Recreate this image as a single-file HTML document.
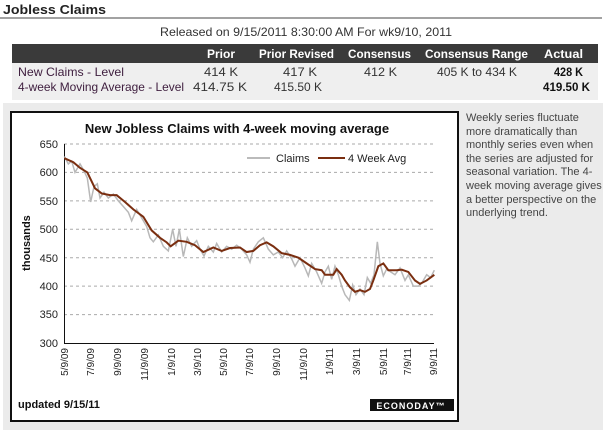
<!DOCTYPE html>
<html><head><meta charset="utf-8"><style>
body{margin:0;width:610px;height:430px;background:#fff;font-family:"Liberation Sans",Arial,sans-serif;position:relative;overflow:hidden}
.a{position:absolute}
</style></head><body>
<div class="a" style="left:3px;top:103px;width:600px;height:327px;background:#ebebeb"></div>
<div class="a" style="left:10px;top:111px;width:445px;height:307px;background:#fff;border:2px solid #111"></div>
<div class="a" style="left:466px;top:112px;width:140px;font-size:11px;line-height:13.6px;color:#444">Weekly series fluctuate more dramatically than monthly series even when the series are adjusted for seasonal variation. The 4-week moving average gives a better perspective on the underlying trend.</div>
<svg class="a" style="left:0;top:0" width="610" height="430">
<g font-family="Liberation Sans,Arial,sans-serif">
<text x="3" y="14" font-size="13" font-weight="bold" fill="#222" textLength="103" lengthAdjust="spacingAndGlyphs">Jobless Claims</text>
<rect x="0" y="17.5" width="602" height="1" fill="#444"/>
<text x="160" y="36" font-size="12" fill="#333" textLength="292" lengthAdjust="spacingAndGlyphs">Released on 9/15/2011 8:30:00 AM For wk9/10, 2011</text>
<rect x="12" y="44" width="586" height="19" fill="#3a3a3a"/>
<rect x="12" y="63" width="586" height="37" fill="#efefef"/>
<g font-size="12" font-weight="bold" fill="#fff">
<text x="207" y="58" textLength="28" lengthAdjust="spacingAndGlyphs">Prior</text>
<text x="259" y="58" textLength="75" lengthAdjust="spacingAndGlyphs">Prior Revised</text>
<text x="348" y="58" textLength="63" lengthAdjust="spacingAndGlyphs">Consensus</text>
<text x="425" y="58" textLength="103" lengthAdjust="spacingAndGlyphs">Consensus Range</text>
<text x="544" y="58" textLength="39" lengthAdjust="spacingAndGlyphs">Actual</text></g>
<g font-size="12" fill="#333">
<text x="18" y="76" fill="#402040" textLength="106" lengthAdjust="spacingAndGlyphs">New Claims - Level</text>
<text x="204" y="76" textLength="34" lengthAdjust="spacingAndGlyphs">414 K</text>
<text x="283" y="76" textLength="34" lengthAdjust="spacingAndGlyphs">417 K</text>
<text x="364" y="76" textLength="33" lengthAdjust="spacingAndGlyphs">412 K</text>
<text x="437" y="76" textLength="80" lengthAdjust="spacingAndGlyphs">405 K to 434 K</text>
<text x="554" y="76" font-weight="bold" fill="#111" textLength="29" lengthAdjust="spacingAndGlyphs">428 K</text>
<text x="18" y="91" fill="#402040" textLength="166" lengthAdjust="spacingAndGlyphs">4-week Moving Average - Level</text>
<text x="193" y="91" textLength="54" lengthAdjust="spacingAndGlyphs">414.75 K</text>
<text x="274" y="91" textLength="48" lengthAdjust="spacingAndGlyphs">415.50 K</text>
<text x="543" y="91" font-weight="bold" fill="#111" textLength="47" lengthAdjust="spacingAndGlyphs">419.50 K</text></g>

<text x="237" y="133" text-anchor="middle" font-size="13" font-weight="bold" fill="#111">New Jobless Claims with 4-week moving average</text>
<g stroke="#aaa" stroke-dasharray="3,3" stroke-width="1">
<line x1="64" x2="434" y1="144" y2="144"/><line x1="64" x2="434" y1="172.4" y2="172.4"/><line x1="64" x2="434" y1="200.9" y2="200.9"/><line x1="64" x2="434" y1="229.3" y2="229.3"/><line x1="64" x2="434" y1="257.7" y2="257.7"/><line x1="64" x2="434" y1="286.1" y2="286.1"/><line x1="64" x2="434" y1="314.6" y2="314.6"/></g>
<line x1="64.5" y1="144" x2="64.5" y2="343" stroke="#111"/>
<line x1="64" y1="343.5" x2="434" y2="343.5" stroke="#111"/>
<g font-size="11" fill="#222" text-anchor="end">
<text x="58" y="148">650</text><text x="58" y="176">600</text><text x="58" y="205">550</text><text x="58" y="233">500</text><text x="58" y="262">450</text><text x="58" y="290">400</text><text x="58" y="318">350</text><text x="58" y="347">300</text></g>
<text transform="translate(30,243) rotate(-90)" text-anchor="middle" font-size="11" font-weight="bold" fill="#111">thousands</text>
<g font-size="10" fill="#222" text-anchor="end">
<text transform="translate(68,348) rotate(-90)">5/9/09</text><text transform="translate(94,348) rotate(-90)">7/9/09</text><text transform="translate(121,348) rotate(-90)">9/9/09</text><text transform="translate(148,348) rotate(-90)">11/9/09</text><text transform="translate(175,348) rotate(-90)">1/9/10</text><text transform="translate(201,348) rotate(-90)">3/9/10</text><text transform="translate(227,348) rotate(-90)">5/9/10</text><text transform="translate(253,348) rotate(-90)">7/9/10</text><text transform="translate(280,348) rotate(-90)">9/9/10</text><text transform="translate(307,348) rotate(-90)">11/9/10</text><text transform="translate(333,348) rotate(-90)">1/9/11</text><text transform="translate(360,348) rotate(-90)">3/9/11</text><text transform="translate(387,348) rotate(-90)">5/9/11</text><text transform="translate(411,348) rotate(-90)">7/9/11</text><text transform="translate(437,348) rotate(-90)">9/9/11</text></g>
<line x1="247" x2="270" y1="158" y2="158" stroke="#bbb" stroke-width="2"/>
<text x="276" y="162" font-size="11" fill="#222">Claims</text>
<line x1="318" x2="345" y1="158" y2="158" stroke="#7a2e10" stroke-width="2"/>
<text x="348" y="162" font-size="11" fill="#222">4 Week Avg</text>
<g transform="translate(0,343) scale(0.33333,-0.5686) translate(0,-300)" fill="none">
<polyline vector-effect="non-scaling-stroke" stroke="#b8b8b8" stroke-width="1.5" points="193,628 205,615 215,620 225,600 240,615 250,605 262,590 272,548 282,575 292,580 300,555 312,565 325,555 340,562 355,550 370,540 385,530 395,515 410,535 425,520 440,505 450,485 460,478 475,490 490,470 505,462 518,500 528,470 538,500 550,452 562,485 575,470 590,480 600,465 612,453 625,470 640,460 650,475 665,460 680,470 695,465 710,472 725,465 740,455 750,442 760,465 775,478 790,485 805,465 820,455 835,460 848,450 860,462 875,448 885,435 900,450 915,432 925,418 935,440 950,425 965,405 975,425 985,435 995,412 1005,435 1015,420 1025,400 1035,385 1048,375 1058,402 1068,385 1080,395 1092,385 1102,415 1112,405 1122,420 1132,478 1140,440 1150,418 1160,430 1172,425 1185,420 1200,432 1215,410 1225,420 1240,400 1255,400 1265,405 1280,420 1292,415 1303,428"/>
<polyline vector-effect="non-scaling-stroke" stroke="#7a2e10" stroke-width="2" points="193,625 220,618 240,608 262,600 285,572 305,563 330,560 350,560 375,548 400,535 430,522 455,498 480,485 500,477 512,470 535,480 560,478 585,472 610,460 640,468 665,462 690,467 720,468 740,460 760,462 780,472 800,477 820,470 845,458 870,455 895,450 915,442 945,430 965,428 975,420 990,420 1000,420 1010,430 1025,420 1035,410 1050,398 1065,390 1080,393 1095,390 1110,395 1120,410 1135,435 1150,440 1165,428 1190,428 1205,429 1225,425 1245,410 1260,404 1280,410 1303,420"/>
</g>
<text x="18" y="408" font-size="11" font-weight="bold" fill="#111">updated 9/15/11</text>
<rect x="370" y="399" width="84" height="12" fill="#111"/>
<text x="411" y="409" font-size="9" font-weight="bold" fill="#fff" text-anchor="middle" letter-spacing="1">ECONODAY™</text>
</g></svg>
</body></html>
